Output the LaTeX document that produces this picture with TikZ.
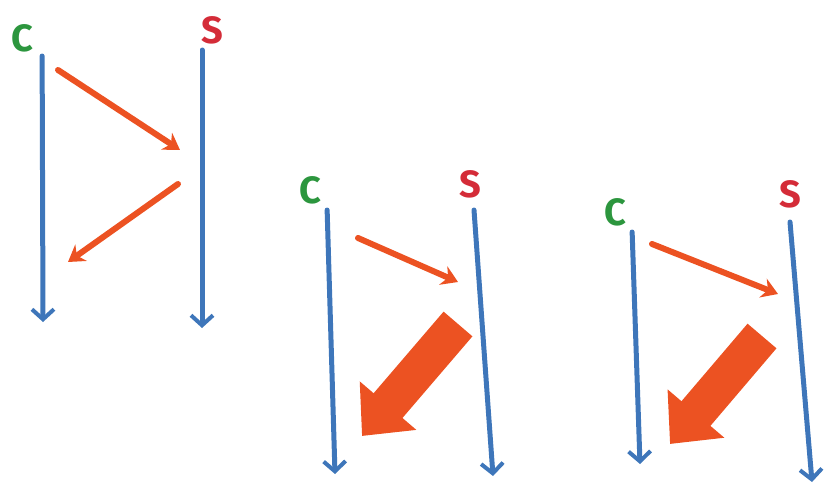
\documentclass[tikz,border=0pt]{standalone}
\usepackage{fontspec}
\setsansfont{Fira Sans}
\usetikzlibrary{arrows.meta}
\definecolor{crayblue}{RGB}{62,118,186}
\definecolor{crayorange}{RGB}{236,82,34}
\definecolor{craygreen}{RGB}{44,150,62}
\definecolor{crayred}{RGB}{212,44,56}
\begin{document}
\begin{tikzpicture}[x=1pt, y=-1pt, every node/.style={font=\sffamily\bfseries\fontsize{38}{38}\selectfont, inner sep=0pt},
  timeline/.style={crayblue, line width=5pt, line cap=round, -{Straight Barb[length=10pt,width=22pt,line width=4pt]}},
  msg/.style={crayorange, line width=6pt, line cap=round, -{Stealth[length=16pt,width=20pt]}},
  bulk/.style={crayorange, line width=38pt, -{Triangle[length=40pt,width=72pt]}}]
  \useasboundingbox (0,0) rectangle (834,494);
  % first exchange
  \node[craygreen] (c1) at (22,38) {C};
  \node[crayred] (s1) at (212,30) {S};
  \coordinate (c1e) at (43,322);
  \coordinate (s1e) at (202,328);
  \coordinate (m1a) at (58,70);
  \coordinate (m1b) at (180,150);
  \coordinate (m2a) at (178,184);
  \coordinate (m2b) at (68,262);
  \draw[timeline] (c1.south east) ++(9,4) -- (c1e);
  \draw[timeline] (s1.south) ++(-10,6) -- (s1e);
  \draw[msg] (m1a) -- (m1b);
  \draw[msg] (m2a) -- (m2b);
  % second exchange
  \node[craygreen] (c2) at (310,190) {C};
  \node[crayred] (s2) at (470,184) {S};
  \coordinate (c2e) at (335,474);
  \coordinate (s2e) at (493,476);
  \coordinate (m3a) at (358,238);
  \coordinate (m3b) at (458,282);
  \coordinate (b1a) at (458,324);
  \coordinate (b1b) at (362,436);
  \draw[timeline] (c2.south east) ++(6,6) -- (c2e);
  \draw[timeline] (s2.south) ++(4,12) -- (s2e);
  \draw[msg] (m3a) -- (m3b);
  \draw[bulk] (b1a) -- (b1b);
  % third exchange
  \node[craygreen] (c3) at (615,212) {C};
  \node[crayred] (s3) at (790,194) {S};
  \coordinate (c3e) at (640,464);
  \coordinate (s3e) at (812,482);
  \coordinate (m4a) at (652,244);
  \coordinate (m4b) at (778,294);
  \coordinate (b2a) at (762,336);
  \coordinate (b2b) at (670,444);
  \draw[timeline] (c3.south east) ++(6,6) -- (c3e);
  \draw[timeline] (s3.south) ++(0,14) -- (s3e);
  \draw[msg] (m4a) -- (m4b);
  \draw[bulk] (b2a) -- (b2b);
\end{tikzpicture}
\end{document}
